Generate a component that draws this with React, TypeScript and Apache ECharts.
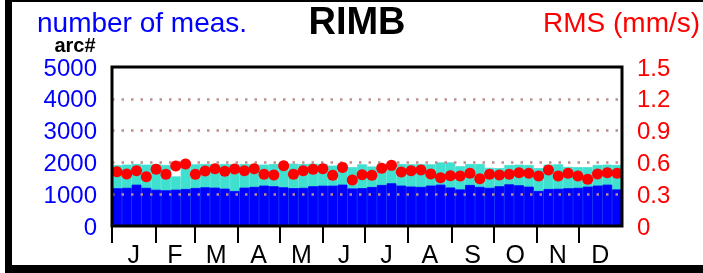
import React, { useEffect, useRef } from "react";
import * as echarts from "echarts";

const weeks: string[] = Array.from({ length: 52 }, (_, i) => `W${i + 1}`);

// number of measurements per week (blue part)
const blueCounts: number[] = [
  1186, 1200, 1299, 1200, 1140, 1122, 1143, 1164, 1195, 1216, 1206, 1174, 1100,
  1206, 1230, 1270, 1250, 1216, 1190, 1200, 1250, 1268, 1268, 1300, 1180, 1190,
  1227, 1290, 1342, 1270, 1240, 1230, 1270, 1300, 1210, 1150, 1290, 1230, 1200,
  1250, 1310, 1280, 1237, 1100, 1164, 1170, 1186, 1200, 1237, 1270, 1300, 1150,
];

// total number of measurements per week (turquoise top)
const totalCounts: number[] = [
  1910, 1930, 1950, 1930, 1940, 1920, 1560, 1950, 1940, 1950, 1940, 1950, 1940,
  1950, 1940, 1930, 1950, 1940, 1960, 1950, 1960, 1950, 1900, 1940, 1850, 1940,
  1870, 1950, 1960, 1950, 1940, 1950, 1940, 2000, 2000, 1880, 1950, 1950, 1830,
  1820, 1920, 1930, 1920, 1820, 1930, 1940, 1860, 1850, 1850, 1920, 1930, 1920,
];

// RMS (mm/s) per week
const rmsValues: number[] = [
  0.512, 0.49, 0.521, 0.465, 0.535, 0.488, 0.566, 0.585, 0.488, 0.519, 0.54,
  0.516, 0.537, 0.521, 0.54, 0.488, 0.481, 0.569, 0.488, 0.521, 0.535, 0.54,
  0.478, 0.553, 0.434, 0.484, 0.478, 0.544, 0.572, 0.509, 0.521, 0.528, 0.49,
  0.455, 0.474, 0.471, 0.497, 0.446, 0.488, 0.481, 0.488, 0.503, 0.497, 0.471,
  0.528, 0.471, 0.497, 0.471, 0.44, 0.49, 0.503, 0.497,
];

const monthLabels: string[] = ["J", "F", "M", "A", "M", "J", "J", "A", "S", "O", "N", "D"];
const monthDays: number[] = [31, 28, 31, 30, 31, 30, 31, 31, 30, 31, 30, 31];
const countGridTicks: number[] = [1000, 2000, 3000, 4000];

const FONT = "'Liberation Sans', Arial, Helvetica, sans-serif";

export default function App() {
  const ref = useRef<HTMLDivElement>(null);

  useEffect(() => {
    document.body.style.margin = "0";
    if (!ref.current) return;
    const chart = echarts.init(ref.current, undefined, { renderer: "svg" });

    const monthStarts: number[] = [];
    const monthMids: number[] = [];
    let acc = 0;
    monthDays.forEach((d) => {
      monthStarts.push(acc);
      monthMids.push(acc + d / 2);
      acc += d;
    });

    const gLeft = 112;
    const gTop = 67;
    const gW = 510;
    const gH = 159;

    chart.setOption({
      animation: false,
      grid: { left: gLeft, top: gTop, width: gW, height: gH, show: false },
      xAxis: [
        { type: "category", data: weeks, show: false, boundaryGap: true },
        {
          type: "value",
          min: 0,
          max: acc,
          position: "bottom",
          axisLine: { show: false },
          splitLine: { show: false },
          axisTick: {
            show: true,
            customValues: monthStarts,
            length: 17,
            lineStyle: { color: "#000", width: 2 },
          },
          axisLabel: {
            customValues: monthMids,
            color: "#000",
            fontSize: 25,
            fontFamily: FONT,
            margin: 15,
            formatter: (v: number) => {
              let best = 0;
              monthMids.forEach((m, i) => {
                if (Math.abs(m - v) < Math.abs(monthMids[best] - v)) best = i;
              });
              return monthLabels[best];
            },
          },
        },
      ],
      yAxis: [
        {
          type: "value",
          min: 0,
          max: 5000,
          interval: 1000,
          position: "left",
          axisLine: { show: false },
          axisTick: { show: false },
          splitLine: { show: false },
          axisLabel: {
            color: "#0000ff",
            fontSize: 24,
            lineHeight: 22,
            fontFamily: FONT,
            margin: 15,
            formatter: (v: number) => String(Math.round(v)),
          },
        },
        {
          type: "value",
          min: 0,
          max: 1.5,
          interval: 0.3,
          position: "right",
          axisLine: { show: false },
          axisTick: { show: false },
          splitLine: { show: false },
          axisLabel: {
            color: "#ff0000",
            fontSize: 24,
            lineHeight: 22,
            fontFamily: FONT,
            margin: 15,
            formatter: (v: number) => String(Number(v.toFixed(1))),
          },
        },
      ],
      series: [
        {
          type: "bar",
          xAxisIndex: 0,
          yAxisIndex: 0,
          data: totalCounts,
          barCategoryGap: "0%",
          barGap: "-100%",
          itemStyle: { color: "#40e0d0", borderColor: "#40e0d0", borderWidth: 0.8 },
          z: 2,
        },
        {
          type: "bar",
          xAxisIndex: 0,
          yAxisIndex: 0,
          data: blueCounts,
          barCategoryGap: "0%",
          barGap: "-100%",
          itemStyle: { color: "#0000ff", borderColor: "#0000ff", borderWidth: 0.8 },
          z: 2,
          markLine: {
            silent: true,
            symbol: "none",
            label: { show: false },
            lineStyle: { color: "#bc8f8f", type: [2.5, 7], width: 2.5 },
            data: countGridTicks.map((t) => ({ yAxis: t })),
          },
        },
        {
          type: "scatter",
          xAxisIndex: 0,
          yAxisIndex: 1,
          data: rmsValues,
          symbol: "circle",
          symbolSize: 11,
          itemStyle: { color: "#ff0000", opacity: 1 },
          z: 5,
        },
      ],
      graphic: [
        {
          type: "rect",
          z: 100,
          shape: { x: gLeft, y: gTop, width: gW, height: gH },
          style: { fill: "none", stroke: "#000", lineWidth: 3 },
        },
        { type: "rect", z: 100, shape: { x: 5, y: 0, width: 7, height: 273 }, style: { fill: "#000" } },
        { type: "rect", z: 100, shape: { x: 5, y: 0, width: 698, height: 2 }, style: { fill: "#000" } },
        { type: "rect", z: 100, shape: { x: 5, y: 265, width: 698, height: 8 }, style: { fill: "#000" } },
        {
          type: "text",
          x: 37,
          y: 22,
          style: {
            text: "number of meas.",
            fill: "#0000ff",
            font: `28px ${FONT}`,
            lineHeight: 24,
            textVerticalAlign: "middle",
          },
        },
        {
          type: "text",
          x: 357,
          y: 21,
          style: {
            text: "RIMB",
            fill: "#000",
            font: `bold 38px ${FONT}`,
            lineHeight: 32,
            textAlign: "center",
            textVerticalAlign: "middle",
          },
        },
        {
          type: "text",
          x: 543,
          y: 22,
          style: {
            text: "RMS (mm/s)",
            fill: "#ff0000",
            font: `28px ${FONT}`,
            lineHeight: 24,
            textVerticalAlign: "middle",
          },
        },
        {
          type: "text",
          x: 75,
          y: 45,
          style: {
            text: "arc#",
            fill: "#000",
            font: `bold 20px ${FONT}`,
            lineHeight: 16,
            textAlign: "center",
            textVerticalAlign: "middle",
          },
        },
      ],
    });

    return () => chart.dispose();
  }, []);

  return (
    <div
      ref={ref}
      style={{ position: "fixed", left: 0, top: 0, width: 703, height: 273 }}
    />
  );
}
